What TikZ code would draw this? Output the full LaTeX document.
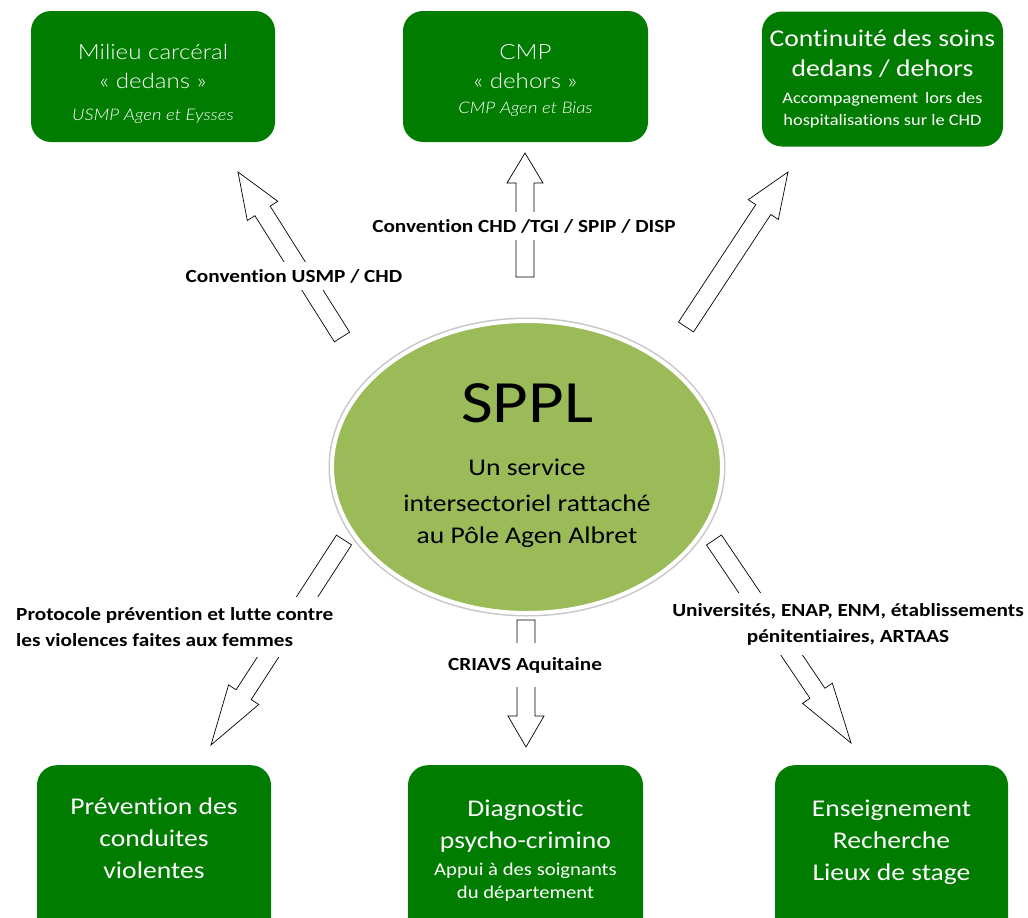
\documentclass[tikz,border=0pt]{standalone}
\usepackage{fontspec}
\setmainfont{Carlito}[FakeStretch=1.15, Ligatures=NoCommon]
\newfontfamily\lightfont{Lato}[UprightFont=* Light, ItalicFont=* Light Italic, BoldFont=* Bold, FakeStretch=1.15, Ligatures=NoCommon]
\usetikzlibrary{calc,shapes.geometric}
\definecolor{boxgreen}{RGB}{0,125,0}
\definecolor{ellgreen}{RGB}{155,187,89}
\newcommand\fs[1]{\fontsize{#1}{#1}\selectfont}
% block arrow: #1 tail coordinate, #2 tip coordinate, #3 head length
\newcommand\blockarrow[3]{%
  \coordinate (#1h) at ($(#2)!#3pt!(#1)$);
  \draw[blockarr] ($(#1)!9pt!90:(#2)$) -- ($(#1h)!9pt!90:(#2)$) -- ($(#1h)!18pt!90:(#2)$)
    -- (#2) -- ($(#1h)!18pt!-90:(#2)$) -- ($(#1h)!9pt!-90:(#2)$) -- ($(#1)!9pt!-90:(#2)$) -- cycle;
}
\begin{document}
\begin{tikzpicture}[x=1pt,y=-1pt,
  gbox/.style={draw=none, fill=boxgreen, rounded corners=20, inner sep=0},
  wt/.style={text=white, anchor=base, inner sep=0},
  bt/.style={text=black, anchor=base, inner sep=0},
  lab/.style={fill=white, inner sep=7, font=\bfseries\fontsize{18.5}{26}\selectfont, align=center, text=black},
  blockarr/.style={draw=black, fill=white, line width=0.7pt, line join=miter}]
\useasboundingbox (0,0) rectangle (1028,918);
\fill[white] (0,0) rectangle (1028,918);

% arrows
\coordinate (a1s) at (342,337); \coordinate (a1e) at (238,172);
\coordinate (a2s) at (525,277); \coordinate (a2e) at (525,153);
\coordinate (a3s) at (686,327); \coordinate (a3e) at (788,172);
\coordinate (a4s) at (344,540); \coordinate (a4e) at (211,745);
\coordinate (a5s) at (526,620); \coordinate (a5e) at (526,747);
\coordinate (a6s) at (714,540); \coordinate (a6e) at (851,743);
\blockarrow{a1s}{a1e}{46}
\blockarrow{a2s}{a2e}{30}
\blockarrow{a3s}{a3e}{45}
\blockarrow{a4s}{a4e}{60}
\blockarrow{a5s}{a5e}{31}
\blockarrow{a6s}{a6e}{60}

% central ellipse
\node[ellipse, minimum width=390, minimum height=292, fill=ellgreen,
      draw=white, line width=4,
      preaction={draw=black!22, line width=7}] (sppl) at (527,467) {};
\node[bt] (s1) at (527,422) {\fs{60}SPPL};
\node[bt] (s2) at (527,475) {\fs{24}Un service};
\node[bt] (s3) at (527,511) {\fs{24}intersectoriel rattaché};
\node[bt] (s4) at (527,543) {\fs{24}au Pôle Agen Albret};

% top boxes
\node[gbox, minimum width=244, minimum height=131] (b1) at (153,76.5) {};
\node[wt] (t1a) at (153,59) {\lightfont\fs{21}Milieu carcéral};
\node[wt] (t1b) at (153,88) {\lightfont\fs{21}« dedans »};
\node[wt] (t1c) at (153,120) {\lightfont\fs{16}\itshape USMP Agen et Eysses};

\node[gbox, minimum width=245, minimum height=131] (b2) at (525.5,76.5) {};
\node[wt] (t2a) at (525.5,59) {\lightfont\fs{21}CMP};
\node[wt] (t2b) at (525.5,88) {\lightfont\fs{21}« dehors »};
\node[wt] (t2c) at (525.5,113) {\lightfont\fs{16}\itshape CMP Agen et Bias};

\node[gbox, minimum width=241, minimum height=135] (b3) at (882.5,79) {};
\node[wt] (t3a) at (882.5,46) {\fs{24}Continuité des soins};
\node[wt] (t3b) at (882.5,76) {\fs{24}dedans / dehors};
\node[wt] (t3c) at (882.5,103) {\fs{16}Accompagnement\, lors des};
\node[wt] (t3d) at (882.5,125) {\fs{16}hospitalisations sur le CHD};

% bottom boxes
\node[gbox, minimum width=234, minimum height=190, anchor=north] (b4) at (154,765) {};
\node[wt] (t4a) at (154,814) {\fs{24}Prévention des};
\node[wt] (t4b) at (154,846) {\fs{24}conduites};
\node[wt] (t4c) at (154,878) {\fs{24}violentes};

\node[gbox, minimum width=235, minimum height=190, anchor=north] (b5) at (525.5,765) {};
\node[wt] (t5a) at (525.5,816) {\fs{24}Diagnostic};
\node[wt] (t5b) at (525.5,848) {\fs{24}psycho-crimino};
\node[wt] (t5c) at (525.5,875) {\fs{18}Appui à des soignants};
\node[wt] (t5d) at (525.5,898) {\fs{18}du département};

\node[gbox, minimum width=233, minimum height=190, anchor=north] (b6) at (891.5,765) {};
\node[wt] (t6a) at (891.5,816) {\fs{24}Enseignement};
\node[wt] (t6b) at (891.5,848) {\fs{24}Recherche};
\node[wt] (t6c) at (891.5,880) {\fs{24}Lieux de stage};

% arrow labels
\node[lab] (l1) at (294,276) {Convention USMP / CHD};
\node[lab] (l2) at (524,226) {Convention CHD /TGI / SPIP / DISP};
\node[lab, align=left, anchor=west, inner ysep=10] (l3) at (9,627) {Protocole prévention et lutte contre\\les violences faites aux femmes};
\node[lab, inner ysep=10] (l4) at (848,624) {Universités, ENAP, ENM, établissements\\pénitentiaires, ARTAAS};
\node[lab, inner ysep=14] (l5) at (525,665) {CRIAVS Aquitaine};
\end{tikzpicture}
\end{document}
